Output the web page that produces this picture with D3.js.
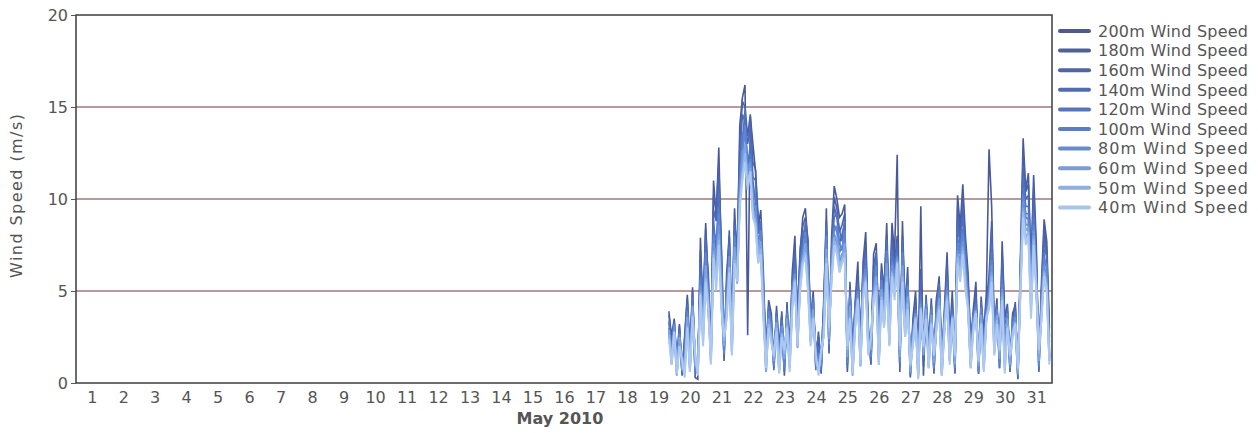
<!DOCTYPE html>
<html>
<head>
<meta charset="utf-8">
<script src="https://cdnjs.cloudflare.com/ajax/libs/d3/7.8.5/d3.min.js"></script>
<style>
  body { margin: 0; background: #fff; }
  text { font-family: "DejaVu Sans", Verdana, sans-serif; fill: #555; }
</style>
</head>
<body>
<div class="chart"></div>
<script>
// 2-hourly wind speed (m/s), May 19 20:00 -> May 31 22:00
var s200 = [3.9,2.2,3.5,1.0,3.2,0.4,2.6,4.8,1.8,5.2,
 0.3,0.2,7.9,3.5,8.7,5.0,2.3,11.0,9.0,12.8,
 6.5,1.2,6.0,7.9,3.0,9.5,6.5,14.0,15.5,16.2,
 2.6,14.5,13.0,11.5,8.5,9.4,6.0,1.4,4.5,3.8,
 0.8,4.2,2.0,3.6,0.4,4.4,1.4,6.0,8.0,3.0,
 7.0,9.0,9.5,7.5,3.5,5.0,0.8,2.5,0.5,4.0,
 9.5,1.6,8.0,10.7,10.0,9.0,9.2,9.7,0.6,5.5,
 1.5,4.5,6.6,2.0,6.6,8.2,3.0,1.0,7.0,7.6,
 2.5,6.5,5.0,8.7,3.5,8.7,7.0,12.4,0.6,8.8,
 4.0,6.3,0.3,3.5,5.0,1.0,9.6,0.4,4.8,2.0,
 4.6,0.5,4.5,5.8,1.2,4.0,7.1,2.5,5.0,0.5,
 10.2,8.5,10.8,8.0,6.0,2.0,4.0,5.5,0.5,4.7,
 2.5,5.0,12.7,9.6,3.0,4.6,0.8,7.7,3.5,4.3,
 0.6,3.8,4.2,0.2,7.0,13.3,10.5,11.4,6.0,11.3,
 7.6,0.6,5.5,8.9,7.7,3.0];

var s180 = [3.7,2.6,3.4,1.3,3.1,0.8,2.4,4.6,1.2,5.0,
 0.9,0.5,7.2,4.0,8.4,5.6,1.6,10.2,9.4,11.9,
 7.0,1.9,5.2,8.3,2.2,8.8,7.2,13.0,15.3,15.0,
 13.4,14.6,12.0,11.6,9.0,8.4,5.0,2.0,4.0,3.2,
 1.2,3.8,1.5,3.9,0.9,4.0,2.0,5.4,7.4,3.6,
 7.3,8.5,9.0,7.8,3.0,4.4,1.3,2.8,0.9,4.5,
 8.8,2.4,7.2,10.1,9.5,8.2,8.6,9.2,1.0,5.0,
 2.2,4.1,6.0,2.5,6.2,7.6,2.4,1.5,6.4,7.1,
 3.0,6.0,5.3,8.0,2.8,8.2,6.5,8.0,1.1,8.0,
 4.4,5.6,0.7,3.0,4.6,1.4,6.2,0.9,4.3,2.4,
 4.2,1.0,4.7,5.3,1.6,3.6,6.6,2.0,4.5,1.0,
 9.6,8.0,10.2,7.4,5.5,2.4,3.6,5.0,0.9,4.2,
 2.9,4.5,5.8,8.8,2.4,4.2,1.2,7.1,3.6,3.9,
 1.0,3.4,4.4,0.5,6.4,12.5,10.4,10.8,6.3,10.6,
 7.0,1.1,5.0,8.4,7.2,2.5];

var s160 = [3.3,2.3,3.0,1.5,2.6,1.1,1.7,4.0,2.1,4.5,
 1.2,0.8,6.6,4.4,7.5,6.0,1.4,9.4,8.8,11.0,
 7.4,2.2,4.8,8.0,2.0,8.2,7.0,12.2,14.6,14.2,
 13.0,13.9,11.2,11.0,8.6,7.9,4.6,2.3,3.6,2.8,
 1.6,3.4,1.0,3.7,1.3,3.6,2.4,4.9,7.0,3.9,
 6.8,8.0,8.5,7.4,2.6,4.0,1.8,2.5,1.3,4.2,
 8.2,2.9,6.8,9.6,9.0,7.6,8.1,8.7,1.5,4.6,
 1.9,3.8,5.6,2.8,5.8,7.1,2.0,1.9,6.0,6.7,
 2.7,5.6,4.9,7.5,2.5,7.7,6.1,7.6,1.5,7.4,
 4.0,5.2,1.1,2.7,4.3,1.7,5.7,1.2,4.0,2.0,
 3.9,1.3,4.4,5.0,1.4,3.3,6.2,1.7,4.2,1.3,
 9.0,7.5,9.6,6.9,5.0,2.1,3.3,4.7,1.2,3.9,
 2.6,4.2,5.4,8.2,2.0,3.9,1.5,6.6,3.2,3.6,
 1.3,3.1,4.1,0.8,6.0,11.8,10.0,10.2,5.9,10.0,
 6.6,1.4,4.6,7.9,6.8,2.2];

var s140 = [3.0,1.9,3.3,0.6,2.9,0.5,2.0,4.3,0.9,4.2,
 0.6,1.0,6.2,3.3,7.8,4.2,2.2,8.9,7.0,10.4,
 5.0,1.4,5.5,6.8,2.8,8.6,5.7,11.8,13.2,14.8,
 11.6,13.0,11.0,9.8,8.1,8.8,5.4,1.0,4.2,3.5,
 0.7,3.9,1.8,2.9,0.6,4.1,0.9,5.6,6.6,2.3,
 6.5,7.7,8.7,6.1,3.3,4.7,0.7,2.0,0.6,3.7,
 8.6,1.8,7.4,9.0,9.2,8.3,7.7,8.9,0.8,5.1,
 0.8,4.3,5.4,1.2,6.1,6.8,2.9,1.0,5.6,7.0,
 1.5,6.0,3.8,7.8,3.3,7.2,6.4,7.3,0.8,7.8,
 3.1,5.8,0.4,3.2,4.0,0.5,5.0,1.5,4.6,1.1,
 4.3,0.6,3.6,5.4,0.6,3.8,5.8,2.3,4.0,0.6,
 8.4,7.7,9.0,7.2,4.8,1.2,3.8,4.4,0.5,4.4,
 1.3,4.0,5.2,7.6,2.8,4.3,0.8,6.0,1.9,4.1,
 0.7,3.6,3.5,0.3,6.5,11.2,9.6,9.6,5.4,9.4,
 6.2,0.7,5.0,7.3,6.9,1.8];

var s120 = [3.4,1.2,2.7,1.1,2.3,1.3,1.1,3.6,1.7,4.7,
 1.4,0.6,5.8,3.8,6.7,5.2,1.2,8.2,7.8,9.6,
 6.2,2.6,4.2,7.4,1.8,7.6,6.6,11.0,13.6,13.5,
 12.3,12.4,10.4,10.3,7.2,7.8,4.3,1.6,3.4,2.6,
 1.4,3.2,0.8,3.4,1.5,3.3,1.6,4.6,6.2,3.1,
 5.6,7.3,7.9,6.8,2.4,3.9,1.5,1.1,1.6,3.0,
 7.6,2.7,6.4,8.6,8.2,7.1,7.4,7.9,1.8,4.2,
 1.4,3.5,5.0,2.1,5.3,6.4,1.8,2.2,5.3,6.0,
 2.2,5.2,4.4,6.7,2.4,6.9,5.4,7.0,1.8,6.8,
 3.6,4.8,1.0,2.4,4.0,1.0,4.8,1.7,3.8,1.7,
 3.5,1.4,4.0,4.6,1.2,3.1,5.5,1.4,3.9,1.4,
 7.9,7.2,8.4,6.2,4.6,1.8,3.1,4.3,1.2,3.6,
 2.0,3.9,4.6,7.1,1.8,3.6,1.7,5.7,2.5,3.4,
 1.4,2.9,3.9,0.9,5.6,10.6,9.2,9.2,5.0,9.0,
 5.8,1.6,4.2,7.0,6.1,1.6];

var s100 = [2.8,1.7,3.2,0.5,2.7,0.7,1.5,3.9,0.8,4.0,
 0.7,0.9,5.6,2.9,7.1,4.0,1.9,8.0,6.2,9.2,
 4.6,1.6,4.9,6.4,2.5,8.0,5.5,10.8,12.4,14.0,
 11.0,12.2,10.1,9.2,7.6,8.3,5.0,0.7,3.9,3.1,
 0.9,3.6,1.4,2.7,0.8,3.8,1.2,5.2,6.0,2.0,
 6.1,7.1,8.2,5.7,3.0,4.4,0.9,1.6,0.9,3.4,
 8.0,2.1,6.9,8.4,8.5,7.6,7.2,8.3,1.1,4.7,
 0.6,3.9,5.0,1.0,5.7,6.2,2.6,1.4,5.1,6.4,
 1.3,5.6,3.4,7.2,2.9,6.6,5.9,6.9,1.1,7.1,
 2.8,5.3,0.5,2.9,3.7,0.4,4.5,1.8,4.3,1.0,
 4.0,0.8,3.3,5.0,0.5,3.6,5.2,2.0,3.7,0.8,
 7.6,7.0,8.1,6.6,4.4,1.0,3.6,4.1,0.6,4.1,
 1.1,3.7,4.9,6.7,2.5,4.0,1.0,5.4,1.4,3.8,
 0.8,3.3,3.3,0.4,6.1,10.2,9.0,8.9,4.9,8.6,
 5.7,0.9,4.6,6.7,6.4,1.4];

var s80 = [2.6,1.4,3.1,0.9,2.2,1.0,0.8,3.3,1.3,3.9,
 1.3,0.5,5.3,3.0,6.1,4.7,1.1,7.6,6.8,8.6,
 5.3,2.6,3.9,6.9,1.7,7.1,6.2,10.2,12.6,12.8,
 11.6,12.0,9.6,9.6,6.8,7.4,3.9,1.3,3.2,2.4,
 1.6,3.0,0.7,3.1,1.7,3.2,1.1,4.3,5.9,2.7,
 5.4,6.9,7.3,6.2,2.2,3.7,1.6,0.8,1.7,2.8,
 7.0,2.9,6.0,8.1,7.6,6.6,7.0,7.3,1.9,3.8,
 1.2,3.3,4.8,1.7,4.9,6.0,1.6,2.4,4.9,5.5,
 1.9,4.9,3.9,6.2,2.1,6.4,5.0,6.8,1.9,6.2,
 3.3,4.4,1.2,2.2,3.8,0.8,4.3,1.9,3.6,1.4,
 3.4,1.6,3.7,4.3,0.9,2.9,5.0,1.2,3.7,1.5,
 7.2,6.6,7.7,5.6,4.3,1.5,3.0,4.0,1.3,3.4,
 1.6,3.7,4.3,6.4,1.7,3.4,1.9,5.1,1.1,3.2,
 1.6,2.7,3.6,1.0,5.3,9.9,8.6,8.6,4.5,8.3,
 5.5,1.8,3.9,6.4,5.6,1.3];

var s60 = [2.9,1.0,2.7,0.4,2.5,0.8,1.0,3.6,0.6,4.2,
 1.0,0.7,5.0,2.6,6.4,3.9,1.5,7.2,5.5,8.1,
 4.2,2.0,4.3,6.1,2.1,7.4,5.4,10.0,11.5,13.0,
 10.7,11.7,9.4,8.8,7.1,7.7,4.4,0.6,3.5,2.7,
 1.2,3.3,1.1,2.5,1.3,3.5,0.9,4.7,5.7,1.9,
 5.6,6.7,7.6,5.3,2.6,4.0,1.1,1.1,1.3,3.1,
 7.3,2.4,6.3,7.9,7.9,6.9,6.8,7.6,1.4,4.2,
 0.4,3.6,4.6,0.9,5.2,5.8,2.2,1.8,4.7,5.8,
 1.0,5.1,3.1,6.5,2.6,6.1,5.3,6.6,1.4,6.4,
 2.5,4.7,0.6,2.6,3.5,0.5,4.1,1.5,4.0,0.8,
 3.7,1.1,3.1,4.6,0.4,3.3,4.8,1.6,3.5,1.0,
 7.0,6.3,7.4,5.9,4.1,0.8,3.3,3.9,0.9,3.7,
 0.8,3.6,4.4,6.0,2.1,3.7,1.3,4.9,0.8,3.5,
 1.0,2.9,3.2,0.5,5.7,9.5,8.3,8.4,4.2,8.0,
 5.3,1.2,3.7,6.1,5.3,1.2];

var s50 = [2.6,1.3,2.8,0.7,2.0,1.4,0.6,3.1,0.9,3.7,
 1.6,0.5,4.9,2.3,5.7,4.3,1.3,7.0,5.6,7.8,
 4.5,2.3,3.6,6.3,1.6,6.7,5.7,9.8,11.3,12.5,
 10.9,11.5,9.2,8.7,6.6,7.3,3.8,1.0,3.2,2.4,
 1.4,3.0,0.6,2.7,1.6,3.1,0.8,4.2,5.6,2.2,
 5.2,6.6,7.1,5.2,2.3,3.6,1.4,0.7,1.6,2.6,
 6.8,2.8,5.8,7.7,7.4,6.3,6.7,7.1,1.8,3.6,
 0.6,3.2,4.6,1.2,4.8,5.6,1.7,2.3,4.7,5.3,
 1.2,4.7,3.2,5.8,2.2,6.0,4.8,6.6,1.8,5.8,
 2.7,4.3,0.9,2.2,3.6,0.3,4.1,1.9,3.7,0.9,
 3.3,1.5,3.2,4.2,0.5,3.0,4.7,1.2,3.6,1.4,
 6.8,5.8,7.2,5.4,4.2,0.9,3.0,3.9,1.1,3.3,
 0.7,3.6,4.2,5.8,1.6,3.4,1.7,4.7,0.7,3.1,
 1.4,2.6,3.3,0.7,5.2,9.3,7.9,8.2,3.8,7.8,
 5.2,1.6,3.6,6.0,5.2,1.2];

var s40 = [2.4,1.0,2.8,0.5,2.0,1.2,0.3,3.0,0.6,3.6,
 1.5,0.4,4.8,2.0,5.5,4.0,1.0,6.8,5.0,7.5,
 4.0,2.5,3.5,6.0,1.5,6.5,5.5,9.5,11.0,12.0,
 10.5,11.5,9.0,8.5,6.5,7.0,3.5,0.8,3.0,2.2,
 1.5,2.8,0.5,2.5,1.8,3.0,0.6,4.0,5.5,2.0,
 5.0,6.5,6.8,5.0,2.0,3.5,1.5,0.4,1.8,2.5,
 6.5,3.0,5.5,7.5,7.0,6.0,6.5,6.8,2.0,3.5,
 0.5,3.0,4.5,1.0,4.5,5.5,1.5,2.5,4.5,5.0,
 1.0,4.5,3.0,5.5,2.0,5.8,4.5,6.5,2.0,5.5,
 2.5,4.0,1.0,2.0,3.5,0.2,4.0,2.0,3.5,0.8,
 3.2,1.5,3.0,4.0,0.4,2.8,4.5,1.0,3.5,1.5,
 6.5,5.5,7.0,5.0,4.0,0.8,2.8,3.8,1.2,3.2,
 0.6,3.5,4.0,5.5,1.5,3.2,1.8,4.5,0.5,3.0,
 1.5,2.5,3.2,0.8,5.0,9.0,7.5,8.0,3.5,7.5,
 5.0,1.8,3.5,5.8,5.0,1.0];

var seriesNames = ["200m Wind Speed", "180m Wind Speed", "160m Wind Speed", "140m Wind Speed",
  "120m Wind Speed", "100m Wind Speed", "80m Wind Speed", "60m Wind Speed",
  "50m Wind Speed", "40m Wind Speed"];
var seriesValues = [s200, s180, s160, s140, s120, s100, s80, s60, s50, s40];
var dayLabels = d3.range(1, 32);
var yTicks = [0, 5, 10, 15, 20];
var gridValues = [5, 10, 15];
var startTime = new Date(2010, 4, 19, 20);
var stepHours = 2;

var colors = ["#495a9c", "#4a61aa", "#4c69b6", "#4f71c0", "#557bc9",
  "#5e86d2", "#6b94da", "#7ea4e2", "#94b6ea", "#adc9f2"];
var legendColors = ["#4e5a8c", "#4f5f98", "#5065a3", "#536cae", "#5674b8",
  "#5b7ec2", "#678bcb", "#7a9bd4", "#90afde", "#aac4e8"];

var W = 1258, H = 433;
var marginLeft = 76, marginTop = 15, plotRight = 1052, plotBottom = 383;

var svg = d3.select(".chart").append("svg")
  .attr("width", W).attr("height", H);

var xScale = d3.scaleTime()
  .domain([new Date(2010, 4, 1), new Date(2010, 5, 1)])
  .range([marginLeft, plotRight]);

var yScale = d3.scaleLinear()
  .domain([0, 20])
  .range([plotBottom, marginTop]);

// grid lines
svg.append("g").selectAll("line")
  .data(gridValues).enter().append("line")
  .attr("x1", marginLeft).attr("x2", plotRight)
  .attr("y1", function(d) { return yScale(d); })
  .attr("y2", function(d) { return yScale(d); })
  .attr("stroke", "#a07878").attr("stroke-width", 1.3);

svg.append("clipPath").attr("id", "plotclip")
  .append("rect")
  .attr("x", marginLeft).attr("y", marginTop)
  .attr("width", plotRight - marginLeft).attr("height", plotBottom - marginTop);

var line = d3.line()
  .x(function(d, i) { return xScale(d3.timeHour.offset(startTime, i * stepHours)); })
  .y(function(d) { return yScale(d); });

svg.append("g").attr("clip-path", "url(#plotclip)")
  .selectAll("path")
  .data(seriesValues).enter().append("path")
  .attr("d", function(d) { return line(d); })
  .attr("fill", "none")
  .attr("stroke", function(d, i) { return colors[i]; })
  .attr("stroke-width", function(d, i) { return i < 5 ? 1.6 : 2; })
  .attr("stroke-linejoin", "miter");

// frame
svg.append("rect")
  .attr("x", marginLeft).attr("y", marginTop)
  .attr("width", plotRight - marginLeft).attr("height", plotBottom - marginTop)
  .attr("fill", "none").attr("stroke", "#3c3c3c").attr("stroke-width", 1.5);

// y axis
var yAxis = svg.append("g")
  .attr("transform", "translate(" + marginLeft + ",0)")
  .call(d3.axisLeft(yScale).tickValues(yTicks).tickSize(5).tickPadding(3));
yAxis.select(".domain").remove();
yAxis.selectAll(".tick line").attr("stroke", "#555");
yAxis.selectAll("text").attr("font-size", 16).attr("font-family", null).attr("fill", "#555");

// x axis
var xAxis = svg.append("g")
  .attr("transform", "translate(0," + plotBottom + ")")
  .call(d3.axisBottom(xScale)
    .tickValues(dayLabels.map(function(d) { return new Date(2010, 4, d, 12); }))
    .tickFormat(d3.timeFormat("%-d"))
    .tickSize(0).tickPadding(9));
xAxis.select(".domain").remove();
xAxis.selectAll("text").attr("font-size", 16).attr("font-family", null).attr("fill", "#555");

svg.append("text")
  .attr("x", 560).attr("y", 424)
  .attr("text-anchor", "middle")
  .attr("font-size", 16).attr("font-weight", "bold")
  .text("May 2010");

svg.append("text")
  .attr("transform", "translate(22,196) rotate(-90)")
  .attr("text-anchor", "middle")
  .attr("font-size", 16)
  .attr("textLength", 164).attr("lengthAdjust", "spacing")
  .text("Wind Speed (m/s)");

// legend
var legend = svg.append("g").attr("transform", "translate(1058,31)");
var rows = legend.selectAll("g").data(seriesNames).enter().append("g")
  .attr("transform", function(d, i) { return "translate(0," + (i * 19.6) + ")"; });
rows.append("line")
  .attr("x1", 2).attr("x2", 31)
  .attr("stroke", function(d, i) { return legendColors[i]; })
  .attr("stroke-width", 4).attr("stroke-linecap", "round");
rows.append("text")
  .attr("x", 40).attr("dy", "0.36em")
  .attr("font-size", 16).attr("fill", "#666")
  .attr("textLength", 150).attr("lengthAdjust", "spacing")
  .text(function(d) { return d; });
</script>
</body>
</html>
